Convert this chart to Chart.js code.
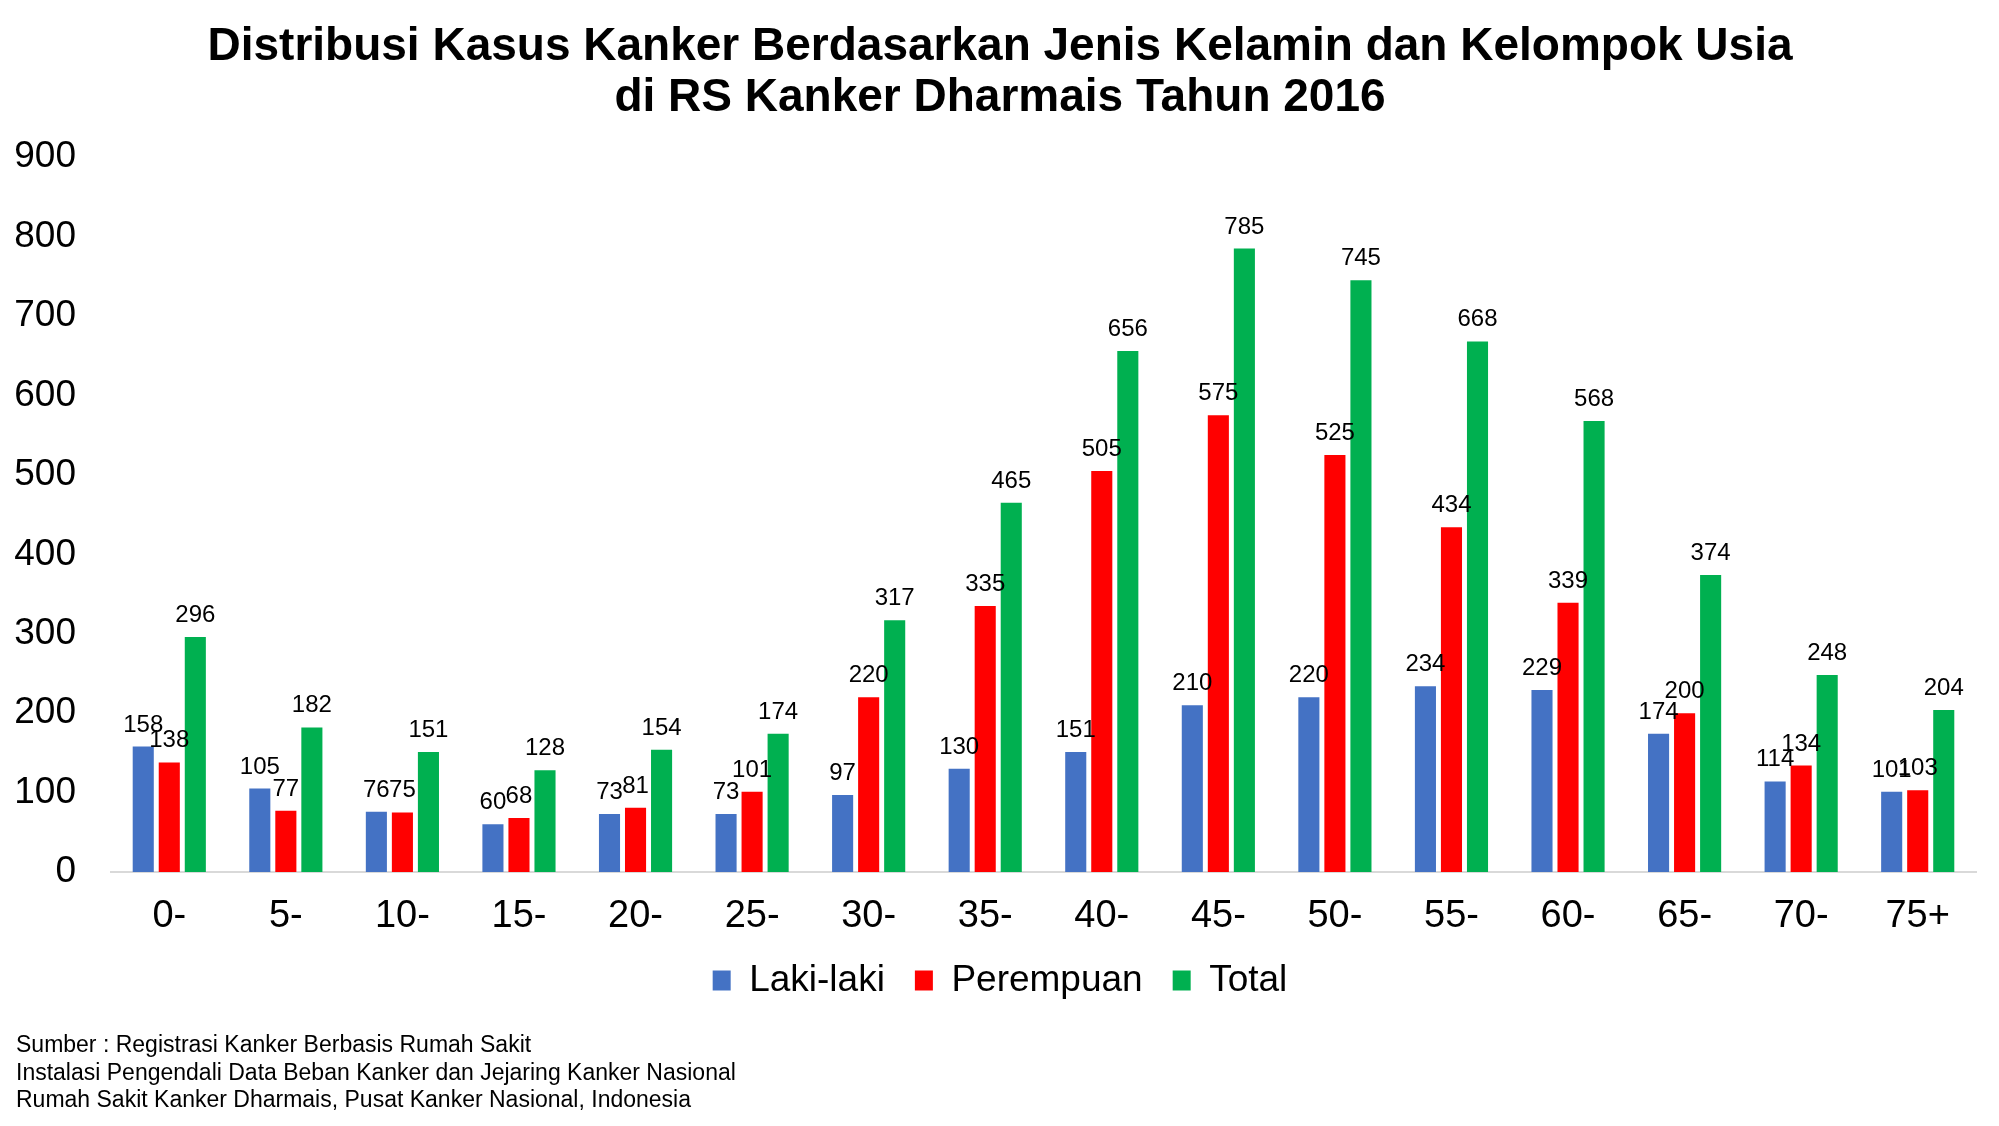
<!DOCTYPE html>
<html>
<head>
<meta charset="utf-8">
<script src="https://cdn.jsdelivr.net/npm/chart.js@4/dist/chart.umd.min.js"></script>
<style>
  html, body { margin: 0; padding: 0; background: #fff; }
  #wrap { position: relative; width: 1999px; height: 1126px; }
  canvas { position: absolute; left: 0; top: 0; }
  #footer { position: absolute; left: 16px; top: 1031px; font-family: "Liberation Sans", Arial, sans-serif; font-size: 23px; line-height: 27.5px; color: #000; }
</style>
</head>
<body>
<div id="wrap">
  <canvas id="c" width="1999" height="1126"></canvas>
  <div id="footer">Sumber : Registrasi Kanker Berbasis Rumah Sakit<br>Instalasi Pengendali Data Beban Kanker dan Jejaring Kanker Nasional<br>Rumah Sakit Kanker Dharmais, Pusat Kanker Nasional, Indonesia</div>
</div>
<script>
const categories = ["0-", "5-", "10-", "15-", "20-", "25-", "30-", "35-", "40-", "45-", "50-", "55-", "60-", "65-", "70-", "75+"];
const lakiLaki  = [158, 105, 76, 60, 73, 73, 97, 130, 151, 210, 220, 234, 229, 174, 114, 101];
const perempuan = [138, 77, 75, 68, 81, 101, 220, 335, 505, 575, 525, 434, 339, 200, 134, 103];
const total     = [296, 182, 151, 128, 154, 174, 317, 465, 656, 785, 745, 668, 568, 374, 248, 204];
const titleLines = ["Distribusi Kasus Kanker Berdasarkan Jenis Kelamin dan Kelompok Usia", "di RS Kanker Dharmais Tahun 2016"];

const FONT = '"Liberation Sans", Arial, sans-serif';

const valueLabels = {
  id: 'valueLabels',
  afterDatasetsDraw(chart) {
    const ctx = chart.ctx;
    ctx.save();
    ctx.font = '24px ' + FONT;
    ctx.fillStyle = '#000';
    ctx.textAlign = 'center';
    ctx.textBaseline = 'alphabetic';
    chart.data.datasets.forEach((ds, di) => {
      const meta = chart.getDatasetMeta(di);
      meta.data.forEach((el, i) => {
        ctx.fillText(String(ds.data[i]), el.x, el.y - 15);
      });
    });
    ctx.restore();
  }
};

const boxShift = {
  id: 'boxShift',
  afterLayout(chart) {
    if (chart.legend) { chart.legend.left += 24; }
    if (chart.titleBlock) { chart.titleBlock.left += 24; }
  }
};

new Chart(document.getElementById('c'), {
  type: 'bar',
  data: {
    labels: categories,
    datasets: [
      { label: 'Laki-laki', data: lakiLaki, backgroundColor: '#4472C4' },
      { label: 'Perempuan', data: perempuan, backgroundColor: '#FF0000' },
      { label: 'Total', data: total, backgroundColor: '#00B050' }
    ]
  },
  options: {
    responsive: false,
    animation: false,
    categoryPercentage: 0.67,
    barPercentage: 0.81,
    layout: { padding: { left: 0, right: 23, top: 0, bottom: 117 } },
    plugins: {
      title: {
        display: true,
        text: titleLines,
        color: '#000',
        font: { family: FONT, size: 46, weight: 'bold', lineHeight: 1.1 },
        padding: { top: 22, bottom: 34 }
      },
      legend: {
        position: 'bottom',
        labels: {
          color: '#000',
          font: { family: FONT, size: 37 },
          boxWidth: 18,
          boxHeight: 20,
          padding: 30
        }
      },
      tooltip: { enabled: false }
    },
    scales: {
      x: {
        grid: { display: false, drawTicks: false },
        border: { display: true, color: '#d9d9d9', width: 2 },
        ticks: { color: '#000', font: { family: FONT, size: 38 }, padding: 22 },
        afterFit(s) { s.height = 60; }
      },
      y: {
        min: 0, max: 900,
        grid: { display: false, drawTicks: false },
        border: { display: false },
        ticks: { stepSize: 100, color: '#000', font: { family: FONT, size: 37 }, padding: 35 },
        afterFit(s) { s.width = 111; }
      }
    }
  },
  plugins: [valueLabels, boxShift]
});
</script>
</body>
</html>
